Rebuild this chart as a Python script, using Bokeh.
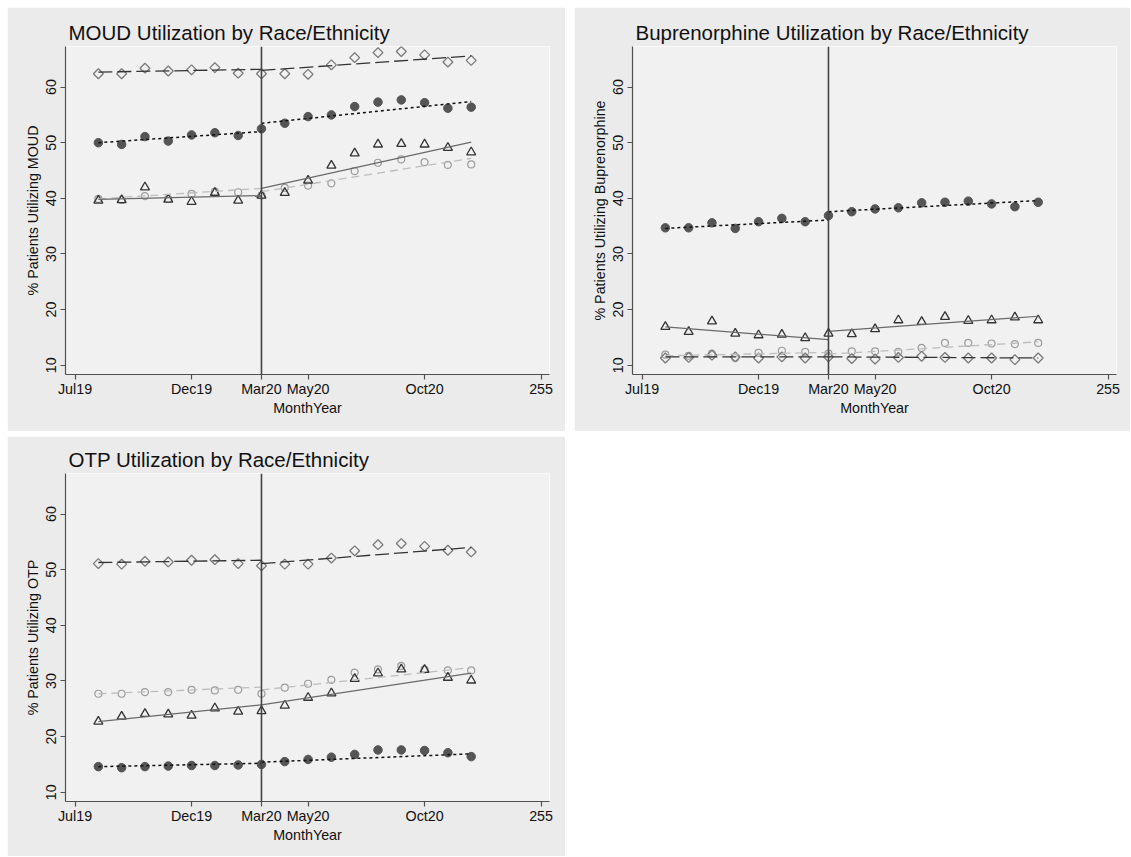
import numpy as np
from bokeh.plotting import figure
from bokeh.models import Range1d, FixedTicker, Span
from bokeh.layouts import column, row
from bokeh.embed import file_html
from bokeh.resources import INLINE

# ---------------- data ----------------
months = ["Aug19", "Sep19", "Oct19", "Nov19", "Dec19", "Jan20", "Feb20", "Mar20",
          "Apr20", "May20", "Jun20", "Jul20", "Aug20", "Sep20", "Oct20", "Nov20", "Dec20"]
tick_labels = ["Jul19", "Dec19", "Mar20", "May20", "Oct20", "255"]
tick_months = [0, 5, 8, 10, 15, 20]
interruption = 8  # Mar20

# MOUD
moud_diamond = [62.4, 62.4, 63.4, 62.9, 63.1, 63.5, 62.5, 62.4, 62.4, 62.3, 64.0, 65.3, 66.2, 66.4, 65.8, 64.5, 64.8]
moud_diamond_fit = [62.7, 63.2, 63.0, 65.6]
moud_filled = [50.0, 49.7, 51.1, 50.3, 51.4, 51.8, 51.3, 52.5, 53.5, 54.7, 55.0, 56.5, 57.3, 57.7, 57.2, 56.2, 56.4]
moud_filled_fit = [50.0, 52.0, 53.5, 57.4]
moud_triangle = [39.6, 39.7, 42.0, 39.8, 39.4, 41.0, 39.6, 40.5, 41.0, 43.2, 45.9, 48.1, 49.7, 49.8, 49.7, 49.1, 48.3]
moud_triangle_fit = [39.8, 40.5, 41.8, 50.1]
moud_hollow = [39.9, 39.7, 40.4, 39.9, 40.8, 41.2, 41.1, 40.5, 41.9, 42.3, 42.7, 44.9, 46.4, 47.0, 46.5, 46.0, 46.1]
moud_hollow_fit = [39.9, 41.8, 41.2, 47.2]

# Buprenorphine
bup_filled = [34.7, 34.7, 35.6, 34.6, 35.8, 36.4, 35.8, 36.9, 37.6, 38.1, 38.3, 39.2, 39.3, 39.5, 39.0, 38.5, 39.3]
bup_filled_fit = [34.6, 36.1, 37.6, 39.6]
bup_triangle = [16.9, 16.0, 17.9, 15.7, 15.4, 15.5, 14.9, 15.7, 15.6, 16.5, 18.1, 17.8, 18.7, 18.0, 18.1, 18.6, 18.1]
bup_triangle_fit = [16.9, 14.6, 16.1, 18.8]
bup_hollow = [11.9, 11.7, 12.1, 11.3, 12.2, 12.6, 12.4, 12.1, 12.5, 12.5, 12.4, 13.1, 14.0, 14.0, 13.9, 13.8, 14.0]
bup_hollow_fit = [11.7, 12.3, 12.0, 14.2]
bup_diamond = [11.3, 11.4, 11.8, 11.5, 11.3, 11.5, 11.3, 11.5, 11.2, 11.1, 11.4, 11.6, 11.4, 11.3, 11.3, 11.0, 11.3]
bup_diamond_fit = [11.5, 11.5, 11.5, 11.3]

# OTP
otp_diamond = [51.1, 51.0, 51.5, 51.4, 51.7, 51.8, 51.1, 50.7, 51.0, 51.0, 52.1, 53.4, 54.5, 54.7, 54.2, 53.5, 53.2]
otp_diamond_fit = [51.3, 51.7, 51.1, 54.0]
otp_hollow = [27.7, 27.7, 28.0, 28.0, 28.4, 28.3, 28.4, 27.7, 28.8, 29.5, 30.2, 31.5, 32.1, 32.7, 32.1, 31.9, 31.9]
otp_hollow_fit = [27.7, 28.9, 28.4, 32.4]
otp_triangle = [22.7, 23.6, 24.1, 24.0, 23.8, 25.1, 24.5, 24.6, 25.6, 27.0, 27.8, 30.4, 31.4, 32.1, 32.0, 30.6, 30.1]
otp_triangle_fit = [22.7, 25.7, 25.7, 31.4]
otp_filled = [14.6, 14.4, 14.6, 14.7, 14.8, 14.8, 14.9, 15.0, 15.5, 15.9, 16.3, 16.8, 17.6, 17.6, 17.5, 17.1, 16.4]
otp_filled_fit = [14.6, 15.2, 15.4, 16.9]

# ---------------- styling ----------------
FONT = "Liberation Sans"
OUTER = "#ebebeb"
INNER = "#f1f1f1"
AXIS = "#505050"

x_vals = np.arange(1, len(months) + 1)
x_first, x_last = x_vals[0], x_vals[-1]

STYLES = {
    "hollow":   dict(marker="circle", size=7, fill_color=None, line_color="#9c9c9c", line_width=1.2,
                     fit_color="#bdbdbd", fit_dash="8 5", fit_width=1.3),
    "filled":   dict(marker="circle", size=8.5, fill_color="#555555", line_color="#555555", line_width=1,
                     fit_color="#111111", fit_dash="3 3", fit_width=1.5),
    "triangle": dict(marker="triangle", size=9, fill_color=None, line_color="#333333", line_width=1.3,
                     fit_color="#6a6a6a", fit_dash="solid", fit_width=1.2),
    "diamond":  dict(marker="square", size=7, angle=np.pi / 4, fill_color=None, line_color="#7a7a7a", line_width=1.3,
                     fit_color="#333333", fit_dash="14 5", fit_width=1.3),
}


def make_panel(title, ylabel, series, width, height, left, right, top, bottom):
    p = figure(width=width, height=height, output_backend="svg", toolbar_location=None,
               x_range=Range1d(-0.41, 20.36), y_range=Range1d(8.33, 67.3),
               min_border_left=left, min_border_right=right,
               min_border_top=top, min_border_bottom=bottom)
    p.background_fill_color = INNER
    p.border_fill_color = OUTER
    p.outline_line_color = "#f9f9f9"
    p.outline_line_width = 1
    p.xgrid.visible = False
    p.ygrid.visible = False

    p.title.text = title
    p.title.text_font = FONT
    p.title.text_font_size = "20.5px"
    p.title.text_font_style = "normal"
    p.title.text_color = "#111111"
    p.title.align = "left"
    p.title.offset = 3
    p.title.standoff = 5

    for ax in (p.xaxis[0], p.yaxis[0]):
        ax.axis_line_color = AXIS
        ax.axis_line_width = 1.2
        ax.major_tick_line_color = AXIS
        ax.major_tick_line_width = 1.2
        ax.major_tick_out = 5
        ax.major_tick_in = 0
        ax.minor_tick_line_color = None
        ax.major_label_text_font = FONT
        ax.major_label_text_font_size = "14.3px"
        ax.major_label_text_color = "#111111"
        ax.axis_label_text_font = FONT
        ax.axis_label_text_font_size = "14.3px"
        ax.axis_label_text_font_style = "normal"
        ax.axis_label_text_color = "#111111"

    p.xaxis.ticker = FixedTicker(ticks=tick_months)
    p.xaxis.major_label_overrides = {m: lab for m, lab in zip(tick_months, tick_labels)}
    p.xaxis.axis_label = "MonthYear"
    p.xaxis.major_label_standoff = 1
    p.xaxis.axis_label_standoff = 0

    p.yaxis.ticker = FixedTicker(ticks=[10, 20, 30, 40, 50, 60])
    p.yaxis.major_label_orientation = "vertical"
    p.yaxis.axis_label = ylabel
    p.yaxis.major_label_standoff = 4
    p.yaxis.axis_label_standoff = 3

    for kind, vals, fit in series:
        st = STYLES[kind]
        kw = dict(marker=st["marker"], size=st["size"], fill_color=st["fill_color"],
                  line_color=st["line_color"], line_width=st["line_width"])
        if "angle" in st:
            kw["angle"] = st["angle"]
        p.scatter(x_vals, vals, **kw)
    for kind, vals, fit in series:
        st = STYLES[kind]
        p.line([x_first, interruption], fit[0:2], line_color=st["fit_color"],
               line_dash=st["fit_dash"], line_width=st["fit_width"])
        p.line([interruption, x_last], fit[2:4], line_color=st["fit_color"],
               line_dash=st["fit_dash"], line_width=st["fit_width"])

    p.add_layout(Span(location=interruption, dimension="height", line_color="#444444", line_width=1.6))
    return p


p1 = make_panel("MOUD Utilization by Race/Ethnicity", "% Patients Utilizing MOUD",
                [("hollow", moud_hollow, moud_hollow_fit), ("filled", moud_filled, moud_filled_fit),
                 ("triangle", moud_triangle, moud_triangle_fit), ("diamond", moud_diamond, moud_diamond_fit)],
                558, 424, 58, 16, 39, 57)
p2 = make_panel("Buprenorphine Utilization by Race/Ethnicity", "% Patients Utilizing Buprenorphine",
                [("hollow", bup_hollow, bup_hollow_fit), ("filled", bup_filled, bup_filled_fit),
                 ("triangle", bup_triangle, bup_triangle_fit), ("diamond", bup_diamond, bup_diamond_fit)],
                556, 424, 58, 14, 39, 57)
p3 = make_panel("OTP Utilization by Race/Ethnicity", "% Patients Utilizing OTP",
                [("hollow", otp_hollow, otp_hollow_fit), ("filled", otp_filled, otp_filled_fit),
                 ("triangle", otp_triangle, otp_triangle_fit), ("diamond", otp_diamond, otp_diamond_fit)],
                558, 420, 58, 16, 37, 55)

layout = column(row(p1, p2, spacing=9), p3, spacing=5, margin=(7, 0, 0, 7))

open("out.html", "w").write(file_html(layout, INLINE))
